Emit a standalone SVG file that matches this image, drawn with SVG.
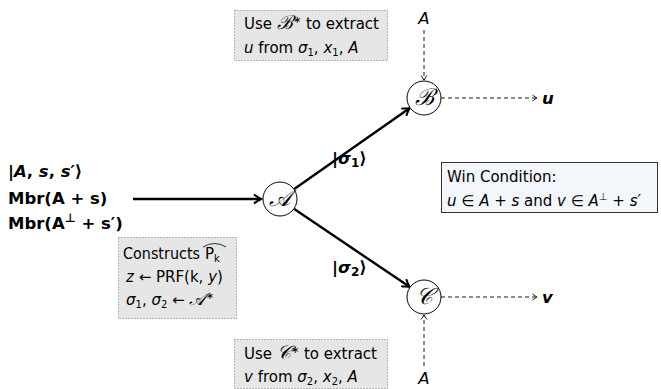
<svg xmlns="http://www.w3.org/2000/svg" width="661" height="389" viewBox="0 0 661 389">
  <style>
    text { font-family: "DejaVu Sans", "Liberation Sans", sans-serif; font-size: 15px; fill: #000; }
    .big { font-size: 16.5px; }
    .it { font-style: italic; }
    .bf { font-weight: bold; }
    .cal { font-family: "DejaVu Serif", "Liberation Serif", serif; font-style: italic; }
    .calN { font-family: "DejaVu Serif", "Liberation Serif", serif; font-style: italic; font-size: 23px; }
    .node { fill: #fff; stroke: #000; stroke-width: 1; }
    .note { fill: #e6e6e6; stroke: #777; stroke-width: 1; stroke-dasharray: 1 2; }
    .win { fill: #f3f6fa; stroke: #333; stroke-width: 1; }
    .thick { stroke: #000; stroke-width: 2.4; fill: none; marker-end: url(#headBold); }
    .dash { stroke: #000; stroke-width: 0.9; fill: none; stroke-dasharray: 4 3; marker-end: url(#headThin); }
  </style>
  <defs>
    <marker id="headBold" viewBox="-8 -5 10 10" refX="0" refY="0" markerWidth="10" markerHeight="10" markerUnits="userSpaceOnUse" orient="auto">
      <path d="M-7,-4.5 Q-2.5,-1.2 0,0 Q-2.5,1.2 -7,4.5" fill="none" stroke="#000" stroke-width="2"/>
    </marker>
    <marker id="headThin" viewBox="-6 -4 7 8" refX="0" refY="0" markerWidth="7" markerHeight="8" markerUnits="userSpaceOnUse" orient="auto">
      <path d="M-4.5,-3 Q-1.5,-0.8 0,0 Q-1.5,0.8 -4.5,3" fill="none" stroke="#000" stroke-width="0.9"/>
    </marker>
  </defs>

  <!-- input state -->
  <g id="input">
    <text x="8" y="177" class="bf big">|<tspan class="it">A</tspan>, <tspan class="it">s</tspan>, <tspan class="it">s′</tspan>⟩</text>
    <text x="8" y="204" class="bf big">Mbr(A + s)</text>
    <text x="8" y="229" class="bf big">Mbr(A<tspan dy="-7" font-size="12">⊥</tspan><tspan dy="7"> + s′)</tspan></text>
  </g>

  <!-- connectors -->
  <g id="connectors">
    <line x1="133" y1="199" x2="261" y2="199" class="thick"/>
    <line x1="293.9" y1="189.2" x2="409.5" y2="108.2" class="thick"/>
    <line x1="293.9" y1="208.8" x2="409.5" y2="286.8" class="thick"/>
    <line x1="424" y1="30" x2="424" y2="80" class="dash"/>
    <line x1="424" y1="366" x2="424" y2="315" class="dash"/>
    <line x1="441" y1="98" x2="537" y2="98" class="dash"/>
    <line x1="441" y1="297" x2="537" y2="297" class="dash"/>
  </g>

  <!-- edge labels -->
  <g id="edge-labels">
    <text x="332" y="164" class="bf big">|<tspan class="it">σ</tspan><tspan dy="3" font-size="12">1</tspan><tspan dy="-3">⟩</tspan></text>
    <text x="332" y="273" class="bf big">|<tspan class="it">σ</tspan><tspan dy="3" font-size="12">2</tspan><tspan dy="-3">⟩</tspan></text>
  </g>

  <!-- adversary A -->
  <g id="nodeA">
    <circle cx="280" cy="199" r="17" class="node"/>
    <text x="280" y="206" text-anchor="middle" class="calN">𝒜</text>
  </g>

  <!-- party B -->
  <g id="nodeB">
    <circle cx="424" cy="98" r="17" class="node"/>
    <text x="424" y="105" text-anchor="middle" class="calN">ℬ</text>
  </g>

  <!-- party C -->
  <g id="nodeC">
    <circle cx="424" cy="297" r="17" class="node"/>
    <text x="424" y="304" text-anchor="middle" class="calN">𝒞</text>
  </g>

  <!-- inputs and outputs of B and C -->
  <g id="inA-top"><text x="424" y="24" text-anchor="middle" class="it big">A</text></g>
  <g id="inA-bottom"><text x="424" y="384" text-anchor="middle" class="it big">A</text></g>
  <g id="out-u"><text x="542" y="104" class="it bf big">u</text></g>
  <g id="out-v"><text x="542" y="303" class="it bf big">v</text></g>

  <!-- annotation boxes -->
  <g id="noteB">
    <rect x="234.5" y="10.5" width="153" height="50" class="note"/>
    <text x="244" y="29">Use <tspan class="cal" font-size="19">ℬ</tspan><tspan dy="-6" font-size="10">∗</tspan><tspan dy="6"> to extract</tspan></text>
    <text x="244" y="53"><tspan class="it">u</tspan> from <tspan class="it">σ</tspan><tspan dy="3" font-size="10">1</tspan><tspan dy="-3">, </tspan><tspan class="it">x</tspan><tspan dy="3" font-size="10">1</tspan><tspan dy="-3">, </tspan><tspan class="it">A</tspan></text>
  </g>

  <g id="noteA">
    <rect x="118.5" y="237.5" width="118" height="81" class="note"/>
    <text x="123" y="259" textLength="77" lengthAdjust="spacingAndGlyphs">Constructs</text>
    <text x="205" y="259">P<tspan dy="3" font-size="10">k</tspan></text>
    <path d="M203,247 Q214.5,240 226,247" fill="none" stroke="#000" stroke-width="0.8"/>
    <text x="126" y="282" font-size="16"><tspan class="it">z</tspan> ← PRF(k, <tspan class="it">y</tspan>)</text>
    <text x="126" y="305"><tspan class="it">σ</tspan><tspan dy="3" font-size="10">1</tspan><tspan dy="-3">, </tspan><tspan class="it">σ</tspan><tspan dy="3" font-size="10">2</tspan><tspan dy="-3"> ← </tspan><tspan class="cal" font-size="17">𝒜</tspan><tspan dy="-6" font-size="10">∗</tspan></text>
  </g>

  <g id="noteC">
    <rect x="234.5" y="339.5" width="153" height="49" class="note"/>
    <text x="244" y="359">Use <tspan class="cal" font-size="19">𝒞</tspan><tspan dy="-6" font-size="10">∗</tspan><tspan dy="6"> to extract</tspan></text>
    <text x="244" y="382"><tspan class="it">v</tspan> from <tspan class="it">σ</tspan><tspan dy="3" font-size="10">2</tspan><tspan dy="-3">, </tspan><tspan class="it">x</tspan><tspan dy="3" font-size="10">2</tspan><tspan dy="-3">, </tspan><tspan class="it">A</tspan></text>
  </g>

  <!-- win condition -->
  <g id="win">
    <rect x="441.5" y="162.5" width="216" height="50" class="win"/>
    <text x="447" y="182">Win Condition:</text>
    <text x="447" y="206"><tspan class="it">u</tspan> ∈ <tspan class="it">A</tspan> + <tspan class="it">s</tspan> and <tspan class="it">v</tspan> ∈ <tspan class="it">A</tspan><tspan dy="-6" font-size="10">⊥</tspan><tspan dy="6"> + </tspan><tspan class="it">s′</tspan></text>
  </g>
</svg>
